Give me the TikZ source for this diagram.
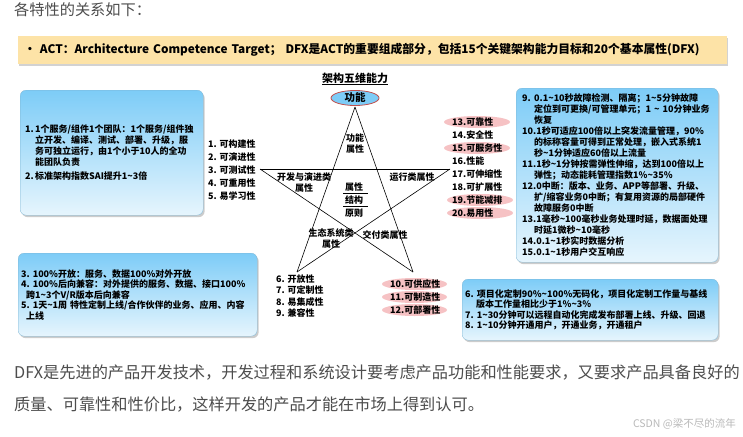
\documentclass[tikz,border=0pt]{standalone}
\usepackage{fontspec}
\setmainfont{Noto Sans CJK SC}
\usetikzlibrary{positioning, shapes.geometric, shadows}
\definecolor{tianlan}{HTML}{7DCCF7}
\definecolor{qianlan}{HTML}{E6F5FD}
\definecolor{fenhong}{HTML}{F6C2C4}
\definecolor{xingrenhuang}{HTML}{FDE3A7}
\definecolor{hongbian}{HTML}{C0504D}
\definecolor{zihui}{HTML}{4D4D4D}
\newcommand{\bo}{\textasciitilde}
\newcommand{\hao}[2][10pt]{\makebox[#1][l]{#2}}
\newcommand{\suo}[1][10pt]{\hspace*{#1}}

\begin{document}
\begin{tikzpicture}[x=1pt, y=-1pt,
      font=\fontsize{9}{11}\selectfont\bfseries,
      banner/.style={fill=xingrenhuang, inner xsep=6pt, inner ysep=0pt,
                     align=left, anchor=north west,
                     drop shadow={shadow xshift=1pt, shadow yshift=-2pt, opacity=0.35}},
      infobox/.style={rounded corners=6pt, top color=tianlan, bottom color=qianlan,
                      draw=tianlan!70!gray, line width=0.3pt,
                      align=left, anchor=north west, inner ysep=0pt,
                      drop shadow={shadow xshift=1.5pt, shadow yshift=-2pt, opacity=0.4}},
      pinkoval/.style={ellipse, fill=fenhong, inner sep=0pt,
                       minimum width=66pt, minimum height=12pt},
      attrlist/.style={align=left, inner sep=0pt, anchor=west,
                       font=\fontsize{9}{13}\selectfont\bfseries},
      starlabel/.style={align=center, inner sep=0pt},
      plain/.style={inner sep=0pt, anchor=west, text=zihui,
                    font=\fontsize{16.2}{20}\selectfont\mdseries},
      starline/.style={line width=0.6pt, black} ]

    \path[fill=white, use as bounding box] (0,0) rectangle (743,436);

    % heading and banner
    \node[plain, font=\fontsize{15.2}{18}\selectfont\mdseries] (kaitou) at (14,10)
      {各特性的关系如下：};
    \node[banner, minimum width=709pt, minimum height=28pt, text width=697pt,
          font=\fontsize{11.8}{14}\selectfont\bfseries] (act) at (18,36)
      {•~ACT：Architecture~Competence~Target；~DFX是ACT的重要组成部分，包括15个关键架构能力目标和20个基本属性(DFX)};

    % title of the star
    \node[font=\fontsize{11}{13}\selectfont\bfseries] (biaoti) at (355,79)
      {\underline{架构五维能力}};
    \node[ellipse, fill=tianlan, draw=hongbian, line width=0.8pt,
          minimum width=48pt, minimum height=15pt, inner sep=0pt,
          font=\fontsize{10.5}{12}\selectfont\bfseries] (gongneng) at (355,98) {功能};

    % the five points
    \coordinate (ding) at (355,107);
    \coordinate (zuo) at (260,169);
    \coordinate (you) at (450,169);
    \coordinate (zuoxia) at (297,272);
    \coordinate (youxia) at (413,272);
    \draw[starline] (ding) -- (zuoxia);
    \draw[starline] (ding) -- (youxia);
    \draw[starline] (zuo) -- (you);
    \draw[starline] (zuo) -- (youxia);
    \draw[starline] (you) -- (zuoxia);

    \node[starlabel] (gnsx) at (355,143.5) {功能\\属性};
    \node[starlabel] (kaifa) at (304,182.5) {开发与演进类\\属性};
    \node[starlabel] (yunxing) at (412,177) {运行类属性};
    \node[starlabel] (shengtai) at (331,238.5) {生态系统类\\属性};
    \node[starlabel] (jiaofu) at (385,235) {交付类属性};
    \node[starlabel] (shuxing) at (354,187) {属性};
    \node[starlabel] (jiegou) at (354,200) {结构};
    \node[starlabel] (yuanze) at (354,213) {原则};
    \draw[line width=0.5pt] (343,193.5) -- (368,193.5);
    \draw[line width=0.5pt] (343,206.5) -- (368,206.5);

    % attribute lists
    \node[attrlist] (kaifalie) at (208,170)
      {1. 可构建性\\2. 可演进性\\3. 可测试性\\4. 可重用性\\5. 易学习性};

    \node[pinkoval] (p13) at (477,122) {};
    \node[pinkoval] (p15) at (477,148) {};
    \node[pinkoval] (p19) at (480,200) {};
    \node[pinkoval] (p20) at (480,213) {};
    \node[attrlist] (yunxinglie) at (452,167.5)
      {13.可靠性\\14.安全性\\15.可服务性\\16.性能\\17.可伸缩性\\18.可扩展性\\19.节能减排\\20.易用性};

    \node[attrlist, font=\fontsize{9}{11.3}\selectfont\bfseries] (shengtailie) at (276,296)
      {6. 开放性\\7. 可定制性\\8. 易集成性\\9. 兼容性};

    \node[pinkoval, minimum width=65pt] (p10) at (414.5,284) {};
    \node[pinkoval, minimum width=65pt] (p11) at (414.5,297) {};
    \node[pinkoval, minimum width=65pt] (p12) at (414.5,310) {};
    \node[attrlist] (jiaofulie) at (390,297)
      {10.可供应性\\11.可制造性\\12.可部署性};

    % target boxes
    \node[infobox, minimum width=183pt, minimum height=125pt, text width=173pt,
          inner xsep=5pt] (kaifakuang) at (20,90)
      {\hao{1.}1个服务/组件1个团队：1个服务/组件独\\
       \suo 立开发、编译、测试、部署、升级，服\\
       \suo 务可独立运行，由1个小于10人的全功\\
       \suo 能团队负责\\[3pt]
       \hao{2.}标准架构指数SAI提升1\bo 3倍};

    \node[infobox, minimum width=202pt, minimum height=174pt, text width=190pt,
          inner xsep=6pt] (yunxingkuang) at (516,88)
      {\hao[12pt]{9.}0.1\bo 10秒故障检测、隔离；1\bo 5分钟故障\\
       \suo[12pt]定位到可更换/可管理单元；1~\bo~10分钟业务\\
       \suo[12pt]恢复\\
       10.1秒可适应100倍以上突发流量管理，90\%\\
       \suo[12pt]的标称容量可得到正常处理，嵌入式系统1\\
       \suo[12pt]秒\bo 1分钟适应60倍以上流量\\
       11.1秒\bo 1分钟按需弹性伸缩，达到100倍以上\\
       \suo[12pt]弹性；动态能耗管理指数1\%\bo 35\%\\
       12.0中断：版本、业务、APP等部署、升级、\\
       \suo[12pt]扩/缩容业务0中断；有复用资源的局部硬件\\
       \suo[12pt]故障服务0中断\\
       13.1毫秒\bo 100毫秒业务处理时延，数据面处理\\
       \suo[12pt]时延1微秒\bo 10毫秒\\
       14.0.1\bo 1秒实时数据分析\\
       15.0.1\bo 1秒用户交互响应};

    \node[infobox, minimum width=239pt, minimum height=83pt, text width=233pt,
          inner xsep=3pt, font=\fontsize{9}{10.5}\selectfont\bfseries] (shengtaikuang) at (18,253)
      {3.~100\%开放：服务、数据100\%对外开放\\
       4.~100\%后向兼容：对外提供的服务、数据、接口100\%\\
       \suo[5pt]跨1\bo 3个V/R版本后向兼容\\
       5.~1天\bo 1周~特性定制上线/合作伙伴的业务、应用、内容\\
       \suo[5pt]上线};

    \node[infobox, minimum width=256pt, minimum height=61pt, text width=250pt,
          inner xsep=3pt, font=\fontsize{9}{10.3}\selectfont\bfseries] (jiaofukuang) at (462,279)
      {6.~项目化定制90\%\bo 100\%无码化，项目化定制工作量与基线\\
       \suo[11pt]版本工作量相比少于1\%\bo 3\%\\
       7.~1\bo 30分钟可以远程自动化完成发布部署上线、升级、回退\\
       8.~1\bo 10分钟开通用户，开通业务，开通租户};

    % closing paragraph
    \node[plain] (duan1) at (14,372)
      {DFX是先进的产品开发技术，开发过程和系统设计要考虑产品功能和性能要求，又要求产品具备良好的};
    \node[plain] (duan2) at (14,404)
      {质量、可靠性和性价比，这样开发的产品才能在市场上得到认可。};
    \node[inner sep=0pt, anchor=east, text=gray!55,
          font=\fontsize{10.5}{12}\selectfont\mdseries] (shuiyin) at (736,424)
      {CSDN @梁不尽的流年};
\end{tikzpicture}
\end{document}
